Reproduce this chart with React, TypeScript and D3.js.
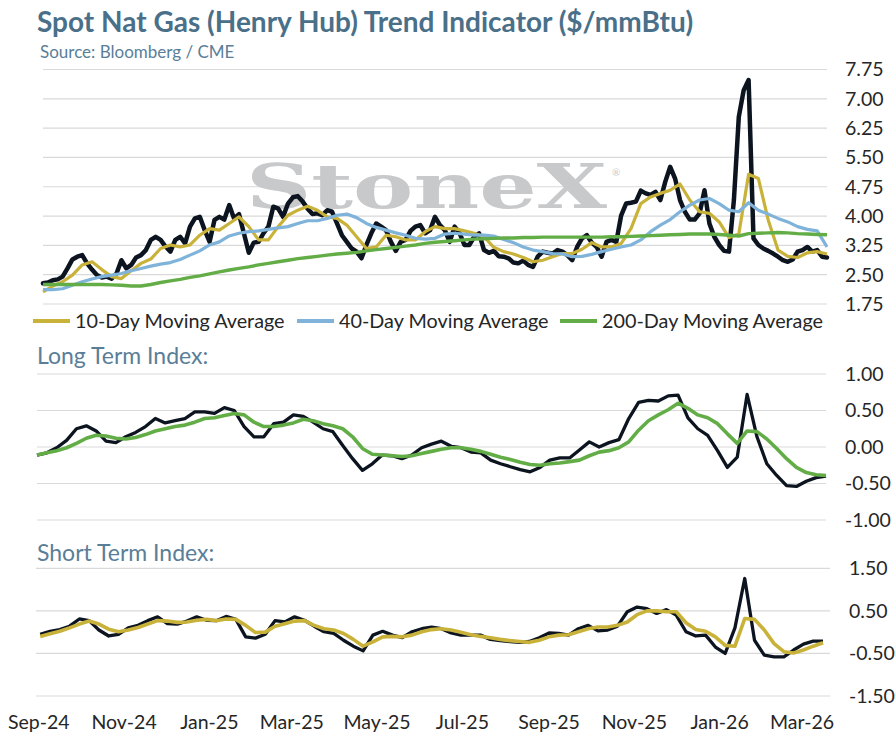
import React from "react";
import * as d3 from "d3";

// Weekly observation grid (Mondays) and a half-week grid for the spot price
const START = new Date(2024, 8, 2);
const WEEKS = 81;
const weekDates: Date[] = d3.range(WEEKS).map((k) => d3.timeDay.offset(START, 7 * k));
const spotDates: Date[] = d3.range(2 * WEEKS - 1).map((j) => d3.timeHour.offset(START, 84 * j));
const END = weekDates[WEEKS - 1];

// Henry Hub spot, $/mmBtu
const spot = [
  2.28, 2.3, 2.36, 2.38, 2.45, 2.66, 2.89, 2.96, 3.0, 2.79,
  2.63, 2.49, 2.43, 2.45, 2.4, 2.53, 2.87, 2.66, 2.75, 2.94,
  3.0, 3.13, 3.39, 3.47, 3.39, 3.22, 3.09, 3.39, 3.47, 3.3,
  3.73, 3.94, 3.98, 3.64, 3.34, 3.9, 3.98, 3.91, 4.28, 3.94,
  4.05, 3.56, 3.06, 3.32, 3.34, 3.56, 3.73, 4.24, 4.19, 3.98,
  4.32, 4.48, 4.51, 4.37, 4.19, 4.05, 4.07, 4.02, 4.15, 4.11,
  3.81, 3.51, 3.34, 3.17, 3.09, 2.92, 3.26, 3.56, 3.81, 3.73,
  3.64, 3.34, 3.11, 3.34, 3.39, 3.62, 3.73, 3.77, 3.56, 3.64,
  3.98, 3.77, 3.64, 3.34, 3.73, 3.57, 3.26, 3.26, 3.47, 3.56,
  3.13, 3.06, 3.11, 2.97, 2.96, 2.92, 2.81, 2.79, 2.86, 2.75,
  2.7, 2.97, 3.09, 3.06, 3.04, 3.13, 3.09, 3.0, 2.87, 3.21,
  3.43, 3.51, 3.32, 3.21, 2.96, 3.34, 3.39, 3.34, 4.02, 4.32,
  4.34, 4.37, 4.65, 4.58, 4.54, 4.62, 4.41, 4.88, 5.26, 4.96,
  4.41, 4.11, 3.91, 3.91, 4.07, 4.66, 3.81, 3.47, 3.26, 3.11,
  3.09, 4.41, 6.54, 7.22, 7.48, 3.43, 3.26, 3.17, 3.11, 3.04,
  2.96, 2.87, 2.83, 2.89, 3.09, 3.13, 3.21, 3.09, 3.13, 2.96, 2.94,
];

const ma10 = [
  2.06, 2.21, 2.32, 2.49, 2.75, 2.83, 2.63, 2.45, 2.4, 2.6,
  2.79, 2.9, 3.17, 3.26, 3.21, 3.26, 3.51, 3.68, 3.64, 3.81,
  3.98, 3.73, 3.39, 3.39, 3.73, 4.02, 4.15, 4.25, 4.15, 3.98,
  3.94, 3.77, 3.47, 3.17, 3.21, 3.51, 3.47, 3.39, 3.39, 3.6,
  3.73, 3.68, 3.68, 3.62, 3.56, 3.47, 3.2, 3.09, 3.03, 2.94,
  2.83, 2.87, 2.96, 3.04, 3.04, 3.15, 3.32, 3.21, 3.21, 3.3,
  3.68, 4.32, 4.49, 4.58, 4.66, 4.82, 4.41, 4.11, 4.07, 3.85,
  3.45, 3.54, 5.07, 4.96, 3.9, 3.13, 2.97, 2.94, 3.06, 3.09,
  3.03,
];

const ma40 = [
  2.12, 2.12, 2.14, 2.23, 2.32, 2.39, 2.45, 2.49, 2.53, 2.6,
  2.66, 2.72, 2.77, 2.81, 2.89, 3.0, 3.11, 3.26, 3.34, 3.49,
  3.56, 3.6, 3.62, 3.66, 3.7, 3.73, 3.81, 3.88, 3.88, 3.94,
  4.02, 4.05, 3.96, 3.81, 3.71, 3.64, 3.57, 3.51, 3.43, 3.41,
  3.43, 3.54, 3.56, 3.54, 3.51, 3.51, 3.49, 3.4, 3.32, 3.21,
  3.13, 3.09, 3.04, 3.03, 2.96, 2.97, 3.02, 3.09, 3.15, 3.21,
  3.26, 3.39, 3.6, 3.77, 3.91, 4.11, 4.28, 4.41, 4.45, 4.32,
  4.15, 4.11, 4.34, 4.15, 4.05, 3.94, 3.85, 3.73, 3.66, 3.62,
  3.21,
];

const ma200 = [
  2.25, 2.25, 2.25, 2.25, 2.25, 2.25, 2.25, 2.24, 2.23, 2.21,
  2.21, 2.25, 2.3, 2.34, 2.38, 2.43, 2.47, 2.52, 2.57, 2.62,
  2.66, 2.7, 2.75, 2.79, 2.83, 2.87, 2.91, 2.94, 2.97, 3.0,
  3.03, 3.05, 3.07, 3.11, 3.14, 3.17, 3.2, 3.23, 3.26, 3.3,
  3.33, 3.35, 3.37, 3.39, 3.41, 3.42, 3.43, 3.44, 3.44, 3.45,
  3.45, 3.46, 3.46, 3.46, 3.46, 3.46, 3.46, 3.46, 3.47, 3.47,
  3.48, 3.49, 3.5, 3.51, 3.52, 3.53, 3.54, 3.54, 3.54, 3.53,
  3.51, 3.49, 3.55, 3.56, 3.57, 3.58, 3.57, 3.55, 3.54, 3.53,
  3.52,
];

// Long term index and its signal line
const ltIndex = [
  -0.11, -0.08, -0.01, 0.09, 0.25, 0.29, 0.22, 0.08, 0.06, 0.14,
  0.2, 0.28, 0.39, 0.33, 0.36, 0.39, 0.48, 0.48, 0.46, 0.54,
  0.5, 0.28, 0.14, 0.14, 0.32, 0.34, 0.44, 0.42, 0.34, 0.25,
  0.21, 0.02, -0.16, -0.32, -0.23, -0.11, -0.12, -0.16, -0.11, -0.01,
  0.04, 0.08, 0.01, -0.01, -0.07, -0.08, -0.18, -0.23, -0.27, -0.31,
  -0.34, -0.28, -0.18, -0.15, -0.15, -0.04, 0.07, 0.0, 0.06, 0.1,
  0.39, 0.61, 0.64, 0.63, 0.7, 0.71, 0.4, 0.25, 0.16, -0.05,
  -0.28, -0.14, 0.72, 0.14, -0.23, -0.39, -0.53, -0.54, -0.47, -0.42,
  -0.4,
];

const ltSignal = [
  -0.11, -0.08, -0.05, -0.01, 0.05, 0.12, 0.16, 0.15, 0.12, 0.11,
  0.13, 0.17, 0.22, 0.25, 0.28, 0.3, 0.34, 0.39, 0.4, 0.43,
  0.46, 0.44, 0.34, 0.28, 0.28, 0.3, 0.33, 0.38, 0.36, 0.32,
  0.29, 0.25, 0.14, -0.02, -0.1, -0.11, -0.12, -0.13, -0.12, -0.09,
  -0.06, -0.03, -0.01, -0.01, -0.03, -0.06, -0.1, -0.14, -0.17, -0.21,
  -0.24, -0.25, -0.23, -0.22, -0.2, -0.18, -0.12, -0.07, -0.05, -0.01,
  0.07, 0.23, 0.36, 0.44, 0.51, 0.6, 0.53, 0.44, 0.4, 0.32,
  0.18, 0.05, 0.22, 0.21, 0.11, -0.02, -0.16, -0.28, -0.35, -0.38,
  -0.39,
];

// Short term index and its signal line
const stIndex = [
  -0.05, 0.02, 0.06, 0.14, 0.31, 0.27, 0.05, -0.09, -0.05, 0.1,
  0.16, 0.27, 0.36, 0.2, 0.19, 0.26, 0.36, 0.28, 0.27, 0.37,
  0.3, -0.11, -0.14, -0.05, 0.27, 0.24, 0.36, 0.28, 0.14, 0.01,
  -0.03, -0.19, -0.33, -0.44, -0.07, 0.02, -0.07, -0.13, 0.01, 0.08,
  0.12, 0.08, -0.02, -0.07, -0.07, -0.07, -0.17, -0.2, -0.22, -0.24,
  -0.22, -0.13, -0.02, -0.03, -0.07, 0.08, 0.16, 0.03, 0.05, 0.14,
  0.48, 0.59, 0.55, 0.44, 0.53, 0.4, 0.01, -0.09, -0.07, -0.35,
  -0.5, 0.1, 1.26, -0.19, -0.54, -0.58, -0.58, -0.42, -0.28, -0.21,
  -0.21,
];

const stSignal = [
  -0.1, -0.04, 0.02, 0.1, 0.19, 0.26, 0.19, 0.07, 0.01, 0.05,
  0.11, 0.19, 0.27, 0.26, 0.23, 0.24, 0.28, 0.3, 0.27, 0.31,
  0.3, 0.16, -0.01, 0.0, 0.14, 0.2, 0.26, 0.27, 0.16, 0.08,
  0.05, -0.03, -0.17, -0.33, -0.23, -0.11, -0.1, -0.11, -0.07, 0.01,
  0.06, 0.08, 0.05, 0.0, -0.06, -0.1, -0.13, -0.17, -0.2, -0.22,
  -0.24, -0.19, -0.11, -0.07, -0.06, 0.01, 0.08, 0.12, 0.12, 0.16,
  0.24, 0.41, 0.5, 0.5, 0.48, 0.48, 0.22, 0.06, 0.02, -0.11,
  -0.31, -0.33, 0.32, 0.3, 0.05, -0.27, -0.46, -0.49, -0.42, -0.33,
  -0.25,
];

const priceTicks = [1.75, 2.5, 3.25, 4.0, 4.75, 5.5, 6.25, 7.0, 7.75];
const ltTicks = [-1, -0.5, 0, 0.5, 1];
const stTicks = [-1.5, -0.5, 0.5, 1.5];
const legendItems = [
  { label: "10-Day Moving Average", key: "ma10" },
  { label: "40-Day Moving Average", key: "ma40" },
  { label: "200-Day Moving Average", key: "ma200" },
];

const FONT = "Lato, 'Open Sans', 'DejaVu Sans', sans-serif";
const COLORS: Record<string, string> = {
  spot: "#0c1420",
  ma10: "#c9b23a",
  ma40: "#7fb3d9",
  ma200: "#63ad47",
  grid: "#d9d9d9",
  title: "#4a7089",
  sub: "#5a7e98",
  text: "#262626",
};

type Scale = (d: Date) => number;

function pathOf(x: Scale, y: d3.ScaleLinear<number, number>, dates: Date[], vals: number[]) {
  return (
    d3
      .line<number>()
      .x((_, i) => x(dates[i]))
      .y((v) => y(v))(vals) || ""
  );
}

const fmtTick = (t: number) => t.toFixed(2);

export default function App() {
  const xTop = d3.scaleTime().domain([START, END]).range([43, 827]);
  const yTop = d3.scaleLinear().domain([1.75, 7.75]).range([304, 69.5]);

  const xMid = d3.scaleTime().domain([START, END]).range([37, 826]);
  const yMid = d3.scaleLinear().domain([-1, 1]).range([520, 374]);

  const xBot = d3
    .scaleTime()
    .domain([d3.timeDay.offset(START, -3), d3.timeDay.offset(END, 5)])
    .range([36, 830]);
  const yBot = d3.scaleLinear().domain([-1.5, 1.5]).range([696, 568.3]);

  const monthTicks = d3.timeMonth.every(2)!.range(new Date(2024, 8, 1), new Date(2026, 3, 1));
  const fmtMonth = d3.timeFormat("%b-%y");

  const legendX: Record<string, number> = { ma10: 33, ma40: 297, ma200: 560 };

  return (
    <svg
      width={896}
      height={735}
      viewBox="0 0 896 735"
      style={{ position: "absolute", left: 0, top: 0, background: "#ffffff" }}
      fontFamily={FONT}
    >
      <rect width={896} height={735} fill="#ffffff" />

      {/* Titles */}
      <text x={37} y={31.5} fontSize={28} fontWeight={700} fill={COLORS.title}>
        Spot Nat Gas (Henry Hub) Trend Indicator ($/mmBtu)
      </text>
      <text x={40} y={58} fontSize={17} fill={COLORS.sub}>
        Source: Bloomberg / CME
      </text>

      {/* Price panel */}
      <g>
        {priceTicks.map((t) => (
          <g key={t}>
            <line x1={43} x2={827} y1={yTop(t)} y2={yTop(t)} stroke={COLORS.grid} strokeWidth={1.2} />
            <text x={845} y={yTop(t)} dy="0.35em" fontSize={19.5} fill={COLORS.text}>
              {fmtTick(t)}
            </text>
          </g>
        ))}
        <text
          x={246}
          y={208}
          fontSize={62}
          fontWeight={700}
          fontFamily="'DejaVu Serif', 'Liberation Serif', serif"
          fill="#c8c9cb"
          textLength={361}
          lengthAdjust="spacingAndGlyphs"
        >
          StoneX
        </text>
        <text x={612} y={176} fontSize={10} fill="#c8c9cb">
          ®
        </text>
        <path d={pathOf(xTop, yTop, spotDates, spot)} fill="none" stroke={COLORS.spot} strokeWidth={4.5} strokeLinejoin="round" strokeLinecap="round" />
        <path d={pathOf(xTop, yTop, weekDates, ma10)} fill="none" stroke={COLORS.ma10} strokeWidth={3.2} strokeLinejoin="round" />
        <path d={pathOf(xTop, yTop, weekDates, ma40)} fill="none" stroke={COLORS.ma40} strokeWidth={3.2} strokeLinejoin="round" />
        <path d={pathOf(xTop, yTop, weekDates, ma200)} fill="none" stroke={COLORS.ma200} strokeWidth={3.4} strokeLinejoin="round" />

        {legendItems.map((it) => (
          <g key={it.key}>
            <line x1={legendX[it.key]} x2={legendX[it.key] + 37} y1={321} y2={321} stroke={COLORS[it.key]} strokeWidth={4} />
            <text x={legendX[it.key] + 42} y={321} dy="0.35em" fontSize={19.8} fill={COLORS.text}>
              {it.label}
            </text>
          </g>
        ))}
      </g>

      {/* Long term index panel */}
      <g>
        <text x={37} y={363.5} fontSize={23} fill={COLORS.sub}>
          Long Term Index:
        </text>
        {ltTicks.map((t) => (
          <g key={t}>
            <line x1={37} x2={826} y1={yMid(t)} y2={yMid(t)} stroke={COLORS.grid} strokeWidth={1.2} />
            <text x={845} y={yMid(t)} dy="0.35em" fontSize={19.5} fill={COLORS.text}>
              {fmtTick(t)}
            </text>
          </g>
        ))}
        <path d={pathOf(xMid, yMid, weekDates, ltIndex)} fill="none" stroke={COLORS.spot} strokeWidth={3.3} strokeLinejoin="round" />
        <path d={pathOf(xMid, yMid, weekDates, ltSignal)} fill="none" stroke={COLORS.ma200} strokeWidth={3.6} strokeLinejoin="round" />
      </g>

      {/* Short term index panel */}
      <g>
        <text x={37} y={561} fontSize={23} fill={COLORS.sub}>
          Short Term Index:
        </text>
        {stTicks.map((t) => (
          <g key={t}>
            <line x1={36} x2={830} y1={yBot(t)} y2={yBot(t)} stroke={COLORS.grid} strokeWidth={1.2} />
            <text x={849} y={yBot(t)} dy="0.35em" fontSize={19.5} fill={COLORS.text}>
              {fmtTick(t)}
            </text>
          </g>
        ))}
        <path d={pathOf(xBot, yBot, weekDates, stIndex)} fill="none" stroke={COLORS.spot} strokeWidth={3.3} strokeLinejoin="round" />
        <path d={pathOf(xBot, yBot, weekDates, stSignal)} fill="none" stroke={COLORS.ma10} strokeWidth={3.6} strokeLinejoin="round" />
        {monthTicks.map((m) => (
          <text key={m.getTime()} x={xBot(m)} y={722} dy="0.35em" textAnchor="middle" fontSize={19.5} fill={COLORS.text}>
            {fmtMonth(m)}
          </text>
        ))}
      </g>
    </svg>
  );
}
